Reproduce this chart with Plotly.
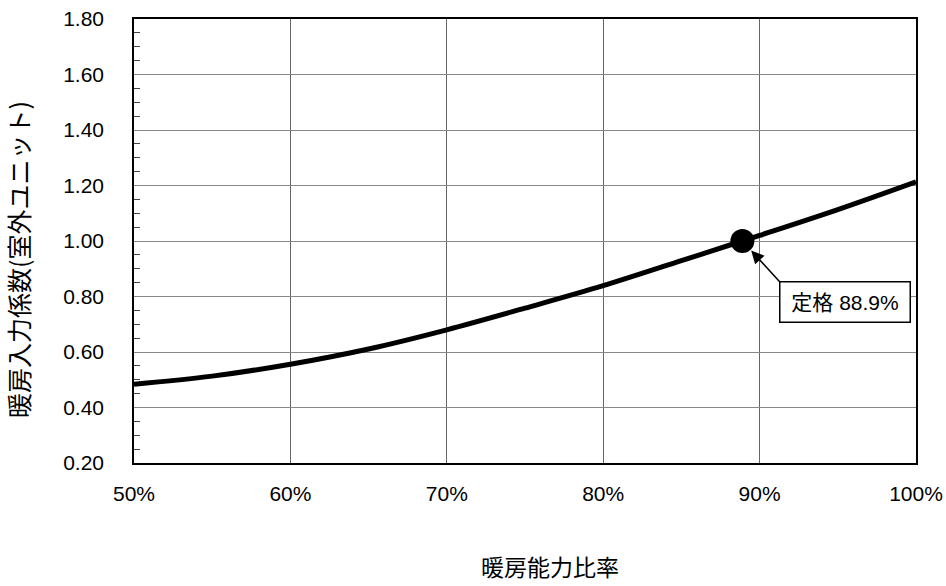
import plotly.graph_objects as go

# Data
capacity_ratio = [50, 55, 60, 65, 70, 75, 80, 85, 88.9, 90, 95, 100]
input_coef = [0.484, 0.513, 0.556, 0.611, 0.680, 0.758, 0.839, 0.929, 1.000, 1.020, 1.113, 1.213]
rated_x = [88.9]
rated_y = [1.00]
rated_label = "定格 88.9%"
x_title = "暖房能力比率"
y_title = "暖房入力係数(室外ユニット)"

JP = "Noto Sans CJK JP"
NUM = "Liberation Sans, Arial, sans-serif"
MIX = "Liberation Sans, Noto Sans CJK JP, sans-serif"

fig = go.Figure()
fig.add_trace(go.Scatter(
    x=capacity_ratio, y=input_coef, mode="lines",
    line=dict(color="black", width=5, shape="spline", smoothing=1.0),
    showlegend=False, hoverinfo="skip"))
fig.add_trace(go.Scatter(
    x=rated_x, y=rated_y, mode="markers",
    marker=dict(color="black", size=24),
    showlegend=False))

# arrow (no text) from box corner to the rated point
fig.add_annotation(
    x=rated_x[0], y=rated_y[0], xref="x", yref="y",
    ax=91.37, ay=0.848, axref="x", ayref="y",
    text="", showarrow=True, arrowhead=2, arrowsize=1.6, arrowwidth=1.6,
    arrowcolor="black", standoff=13)
# label box
fig.add_annotation(
    x=95.49, y=0.782, xref="x", yref="y", text=rated_label, showarrow=False,
    font=dict(family=MIX, size=21, color="black"),
    bgcolor="white", bordercolor="black", borderwidth=1.5,
    width=126, height=36, borderpad=1.5, xanchor="center", yanchor="middle")

# axis titles as annotations to match position
fig.add_annotation(
    x=(550 - 134) / 782, y=(463 - 566) / 444, xref="paper", yref="paper",
    text=x_title, showarrow=False, font=dict(family=JP, size=23, color="black"),
    xanchor="center", yanchor="middle")
fig.add_annotation(
    x=(18 - 134) / 782, y=(463 - 260) / 444, xref="paper", yref="paper",
    text=y_title, showarrow=False, textangle=-90,
    font=dict(family=JP, size=25, color="black"),
    xanchor="center", yanchor="middle")

fig.update_xaxes(
    range=[50, 100], dtick=10, tick0=50, ticksuffix="%",
    showgrid=True, gridcolor="#666666", gridwidth=1,
    showline=True, linecolor="black", linewidth=1.5, mirror=True,
    ticks="", ticklabelstandoff=11, zeroline=False, automargin=False,
    tickfont=dict(family=NUM, size=21, color="black"))
fig.update_yaxes(
    range=[0.2, 1.8], dtick=0.2, tick0=0.2, tickformat=".2f",
    showgrid=True, gridcolor="#888888", gridwidth=1,
    showline=True, linecolor="black", linewidth=1.5, mirror=True,
    ticks="", ticklabelstandoff=24, zeroline=False, automargin=False,
    minor=dict(dtick=0.05, ticks="inside", ticklen=6, tickcolor="#444444", tickwidth=1, showgrid=False),
    tickfont=dict(family=NUM, size=21, color="black"))

fig.update_layout(
    width=946, height=586,
    margin=dict(l=134, r=30, t=19, b=123),
    plot_bgcolor="white", paper_bgcolor="white")

fig.write_html("out.html", config={"displayModeBar": False},
               post_script="document.body.style.margin='0';document.body.style.overflow='hidden';")
